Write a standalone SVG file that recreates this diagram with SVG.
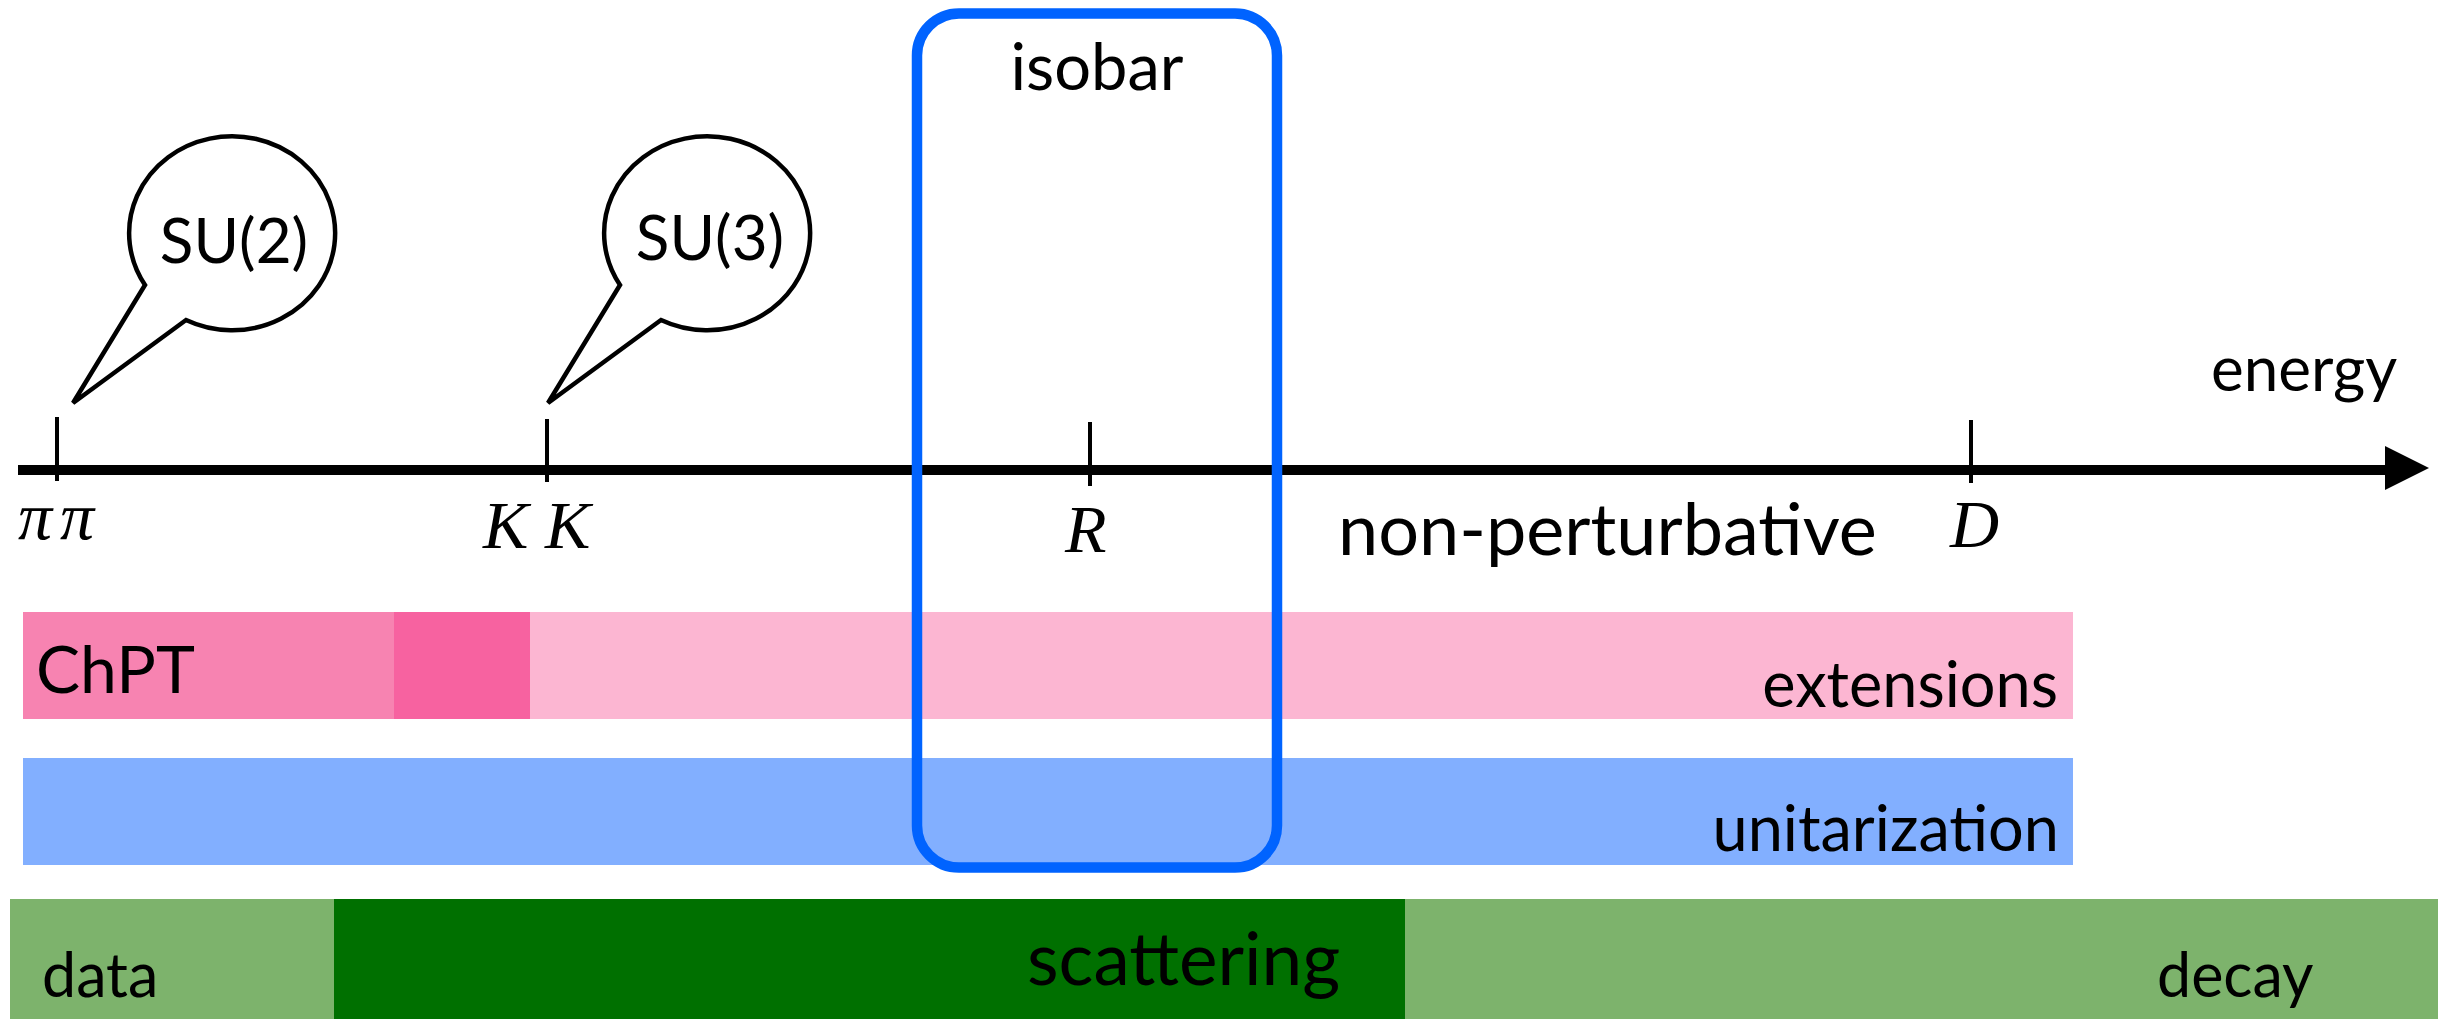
<svg xmlns="http://www.w3.org/2000/svg" width="2438" height="1019" viewBox="0 0 2438 1019">
  <style>
    .lbl { font-family: Lato, "Liberation Sans", sans-serif; fill: #000; }
    .math { font-family: "Liberation Serif", "DejaVu Serif", serif; font-style: italic; fill: #000; font-size: 68px; }
    .tick { stroke: #000; stroke-width: 4; }
    .bubble { fill: #fff; stroke: #000; stroke-width: 4.5; stroke-linejoin: miter; }
  </style>
  <defs>
    <!-- speech bubble outline: ellipse with a pointed tail towards the lower left -->
    <path id="bubbleShape" d="M 145 285 A 103 97 0 1 1 186 320 L 73 403 Z"/>
  </defs>

  <rect width="2438" height="1019" fill="#fff"/>

  <!-- range bands -->
  <g id="band-chpt">
    <rect x="23" y="612" width="371" height="107" fill="#F783B1"/>
    <rect x="394" y="612" width="136" height="107" fill="#F762A0"/>
    <text class="lbl" x="36" y="693" font-size="66">ChPT</text>
  </g>
  <g id="band-extensions">
    <rect x="530" y="612" width="1543" height="107" fill="#FCB6D2"/>
    <text class="lbl" x="2058" y="707" font-size="63" text-anchor="end">extensions</text>
  </g>
  <g id="band-unitarization">
    <rect x="23" y="758" width="2050" height="107" fill="#82AFFF"/>
    <text class="lbl" x="2059" y="851" font-size="63" text-anchor="end">unitarization</text>
  </g>
  <g id="band-data">
    <rect x="10" y="899" width="324" height="120" fill="#7DB36C"/>
    <text class="lbl" x="42" y="997" font-size="61">data</text>
  </g>
  <g id="band-scattering">
    <rect x="334" y="899" width="1071" height="120" fill="#007000"/>
    <text class="lbl" x="1027" y="985" font-size="73">scattering</text>
  </g>
  <g id="band-decay">
    <rect x="1405" y="899" width="1033" height="120" fill="#7DB36C"/>
    <text class="lbl" x="2157" y="997" font-size="61">decay</text>
  </g>

  <!-- energy axis with ticks -->
  <g id="connectors">
    <line x1="18" y1="470" x2="2390" y2="470" stroke="#000" stroke-width="10"/>
    <polygon points="2385,446 2429,468 2385,490" fill="#000"/>
    <line class="tick" x1="57" y1="417" x2="57" y2="481"/>
    <line class="tick" x1="547" y1="419" x2="547" y2="482"/>
    <line class="tick" x1="1090" y1="422" x2="1090" y2="486"/>
    <line class="tick" x1="1971" y1="420" x2="1971" y2="483"/>
  </g>

  <g id="axis-labels">
    <text class="lbl" x="2211" y="391" font-size="62">energy</text>
    <text class="lbl" x="1338" y="555" font-size="72">non-perturbative</text>
    <text class="math" x="18" y="539" font-size="66">π</text>
    <text class="math" x="60" y="539" font-size="66">π</text>
    <text class="math" x="483" y="548">K</text>
    <text class="math" x="545" y="548">K</text>
    <text class="math" x="1065" y="552">R</text>
    <text class="math" x="1950" y="547">D</text>
  </g>

  <!-- symmetry bubbles -->
  <g id="bubble-su2">
    <use href="#bubbleShape" class="bubble"/>
    <text class="lbl" x="234" y="263" font-size="62" text-anchor="middle">SU(2)</text>
  </g>
  <g id="bubble-su3">
    <use href="#bubbleShape" class="bubble" transform="translate(475,0)"/>
    <text class="lbl" x="710" y="260" font-size="62" text-anchor="middle">SU(3)</text>
  </g>

  <!-- isobar window -->
  <g id="isobar">
    <rect x="917" y="13.5" width="360" height="854" rx="42" ry="42" fill="none" stroke="#0063FF" stroke-width="10.5"/>
    <text class="lbl" x="1097" y="90" font-size="65" text-anchor="middle">isobar</text>
  </g>
</svg>
